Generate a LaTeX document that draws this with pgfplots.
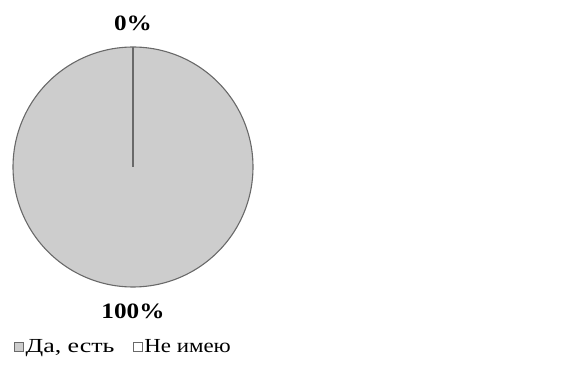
\documentclass[border=0pt]{standalone}
\usepackage{fontspec}
\setmainfont{Liberation Serif}
\usepackage{graphicx}
\usepackage{pgfplots}
\usepackage{pgfplotstable}
\pgfplotsset{compat=1.18}

% share of answers, in percent
\pgfplotstableread{
value
100
0
}\piedata

\definecolor{sliceA}{RGB}{205,205,205}
\definecolor{sliceB}{RGB}{255,255,255}
\definecolor{pieEdge}{RGB}{105,105,105}

% slightly widened lettering
\newcommand{\wide}[2]{\scalebox{#1}[1]{#2}}

\begin{document}
\begin{tikzpicture}
\pgfplotstablegetelem{0}{value}\of\piedata \let\valA\pgfplotsretval
\pgfplotstablegetelem{1}{value}\of\piedata \let\valB\pgfplotsretval
% pie centre and radius (axis units = bp)
\def\cx{133}\def\cy{204}\def\rr{120}\def\rl{144}
\pgfmathsetmacro{\endA}{\valA/(\valA+\valB)*360}
\pgfmathsetmacro{\midA}{\endA/2}
\pgfmathsetmacro{\midB}{(\endA+360)/2}
\pgfmathsetmacro{\xB}{\cx+\rr*sin(\endA)}
\pgfmathsetmacro{\yB}{\cy+\rr*cos(\endA)}
\pgfmathsetmacro{\xLA}{\cx+\rl*sin(\midA)}
\pgfmathsetmacro{\yLA}{\cy+\rl*cos(\midA)}
\pgfmathsetmacro{\xLB}{\cx+\rl*sin(\midB)}
\pgfmathsetmacro{\yLB}{\cy+\rl*cos(\midB)}
\begin{axis}[
  scale only axis, width=566bp, height=371bp,
  xmin=0, xmax=566, ymin=0, ymax=371,
  hide axis, clip=false,
  legend columns=2,
  legend style={at={(axis cs:14,24)}, anchor=west, draw=none, fill=none,
    font=\fontsize{20}{20}\selectfont, inner sep=0pt,
    nodes={inner sep=1.5bp},
    /tikz/every even column/.append style={column sep=17bp}},
]
% slice "Да, есть", clockwise from 12 o'clock
\addplot[fill=sliceA, draw=pieEdge, line width=1.1pt, domain=0:\endA, samples=181,
  variable=\t,
  legend image code/.code={\draw[fill=sliceA, draw=pieEdge, line width=0.9pt] (0bp,-4.5bp) rectangle (9bp,4.5bp);}]
  ({\cx+\rr*sin(\t)},{\cy+\rr*cos(\t)}) -- (axis cs:\cx,\cy) -- cycle;
\addlegendentry{\wide{1.3}{Да, есть}}
% slice "Не имею" (0 %): only its edge remains
\addplot[draw=pieEdge, line width=1.1pt,
  legend image code/.code={\draw[fill=sliceB, draw=pieEdge, line width=0.9pt] (0bp,-4.5bp) rectangle (9bp,4.5bp);}]
  coordinates {(\cx,\cy) (\xB,\yB)};
\addlegendentry{\wide{1.15}{Не имею}}
\node[font=\bfseries\fontsize{22}{22}\selectfont] at (axis cs:\xLA,\yLA) {\wide{1.15}{\valA\%}};
\node[font=\bfseries\fontsize{22}{22}\selectfont] at (axis cs:\xLB,\yLB) {\wide{1.15}{\valB\%}};
\end{axis}
\pgfresetboundingbox
\path[use as bounding box] (current axis.south west) rectangle (current axis.north east);
\end{tikzpicture}
\end{document}
